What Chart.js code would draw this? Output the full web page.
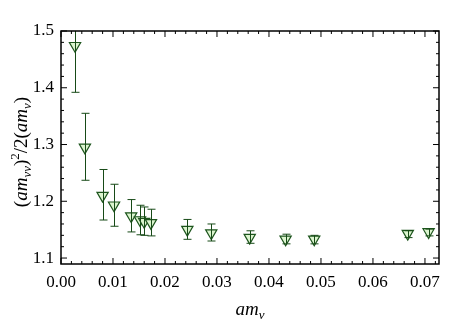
<!DOCTYPE html>
<html>
<head>
<meta charset="utf-8">
<script src="https://cdn.jsdelivr.net/npm/chart.js@4/dist/chart.umd.min.js"></script>
<style>
  html, body { margin: 0; padding: 0; background: #fff; }
  #wrap { width: 470px; height: 320px; position: relative; }
</style>
</head>
<body>
<div id="wrap"><canvas id="c"></canvas></div>
<script>
// am_v values and the ratio, with lower / upper error limits
const mv    = [0.0027, 0.0046, 0.0080, 0.0102, 0.0135, 0.0152, 0.0160, 0.0173, 0.0243, 0.0289, 0.0363, 0.0432, 0.0487, 0.0667, 0.0707];
const ratio = [1.474, 1.295, 1.210, 1.193, 1.174, 1.167, 1.164, 1.162, 1.150, 1.144, 1.136, 1.133, 1.133, 1.143, 1.146];
const errLo = [1.392, 1.237, 1.167, 1.156, 1.146, 1.141, 1.140, 1.139, 1.133, 1.130, 1.126, 1.125, 1.125, 1.136, 1.139];
const errHi = [1.556, 1.355, 1.256, 1.230, 1.203, 1.193, 1.190, 1.186, 1.168, 1.160, 1.148, 1.142, 1.140, 1.148, 1.151];

const xTicks = [0, 0.01, 0.02, 0.03, 0.04, 0.05, 0.06, 0.07];
const yTicks = [1.1, 1.2, 1.3, 1.4, 1.5];

const serif = "'Liberation Serif', 'DejaVu Serif', serif";
const green = '#1d551d';

// error bars, frame and inward ticks
const decor = {
  id: 'decor',
  afterDatasetsDraw(chart) {
    const ctx = chart.ctx, a = chart.chartArea;
    const xs = chart.scales.x, ys = chart.scales.y;
    ctx.save();
    ctx.beginPath();
    ctx.rect(a.left, a.top, a.right - a.left, a.bottom - a.top);
    ctx.clip();
    ctx.strokeStyle = '#174a17';
    ctx.lineWidth = 1;
    for (let i = 0; i < mv.length; i++) {
      const x = Math.round(xs.getPixelForValue(mv[i])) + 0.5;
      const y0 = ys.getPixelForValue(errLo[i]);
      const y1 = ys.getPixelForValue(errHi[i]);
      ctx.beginPath();
      ctx.moveTo(x, y0); ctx.lineTo(x, y1);
      ctx.moveTo(x - 4, y0); ctx.lineTo(x + 4, y0);
      ctx.moveTo(x - 4, y1); ctx.lineTo(x + 4, y1);
      ctx.stroke();
    }
    ctx.restore();

    ctx.save();
    ctx.strokeStyle = '#000';
    ctx.lineWidth = 1.5;
    ctx.strokeRect(a.left, a.top, a.right - a.left, a.bottom - a.top);
    ctx.lineWidth = 1;
    ctx.beginPath();
    for (let k = 0; k <= 36; k++) {
      const v = k * 0.002;
      const px = xs.getPixelForValue(v);
      if (px > a.right) break;
      const len = (k % 5 === 0) ? 6 : 3;
      ctx.moveTo(px, a.bottom); ctx.lineTo(px, a.bottom - len);
      ctx.moveTo(px, a.top); ctx.lineTo(px, a.top + len);
    }
    for (let k = 0; k <= 25; k++) {
      const v = 1.08 + k * 0.02;
      const py = ys.getPixelForValue(v);
      if (py > a.bottom || py < a.top - 0.5) continue;
      const len = (Math.round(v * 100) % 10 === 0) ? 6 : 3;
      ctx.moveTo(a.left, py); ctx.lineTo(a.left + len, py);
      ctx.moveTo(a.right, py); ctx.lineTo(a.right - len, py);
    }
    ctx.stroke();
    ctx.restore();

    // axis titles with sub/superscripts
    ctx.save();
    ctx.fillStyle = '#000';
    ctx.textBaseline = 'alphabetic';
    const big = "italic 19px " + serif, small = "italic 13px " + serif, up = "13px " + serif, norm = "19px " + serif;
    function run(parts, measureOnly) {
      let w = 0;
      for (const p of parts) {
        ctx.font = p[1];
        if (!measureOnly) ctx.fillText(p[0], w, p[2]);
        w += ctx.measureText(p[0]).width;
      }
      return w;
    }
    const yParts = [['(', norm, 0], ['am', big, 0], ['vv', small, 4], [')', norm, 0], ['2', up, -8], ['/2(', norm, 0], ['am', big, 0], ['v', small, 4], [')', norm, 0]];
    let w = run(yParts, true);
    ctx.translate(27, 152 + w / 2);
    ctx.rotate(-Math.PI / 2);
    run(yParts, false);
    ctx.restore();

    ctx.save();
    ctx.fillStyle = '#000';
    const xParts = [['am', "italic 19px " + serif, 0], ['v', "italic 13px " + serif, 4]];
    w = run(xParts, true);
    ctx.translate((a.left + a.right) / 2 - w / 2, 315);
    run(xParts, false);
    ctx.restore();
  }
};

new Chart(document.getElementById('c'), {
  type: 'scatter',
  data: {
    datasets: [{
      data: mv.map((x, i) => ({ x: x, y: ratio[i] })),
      pointStyle: 'triangle',
      rotation: 180,
      radius: 6.5,
      hoverRadius: 6.5,
      borderWidth: 1.2,
      borderColor: green,
      backgroundColor: '#dcf5cf'
    }]
  },
  options: {
    responsive: true,
    maintainAspectRatio: false,
    animation: false,
    layout: { padding: { top: 31, right: 31, left: 0, bottom: 0 } },
    plugins: { legend: { display: false }, tooltip: { enabled: false } },
    scales: {
      x: {
        type: 'linear',
        min: 0, max: 0.0727,
        afterFit(s) { s.height = 56; },
        afterBuildTicks(s) { s.ticks = xTicks.map(v => ({ value: v })); },
        grid: { display: false, drawTicks: false },
        border: { display: false },
        ticks: {
          padding: 8,
          color: '#000',
          font: { family: serif, size: 17 },
          callback: v => v.toFixed(2)
        }
      },
      y: {
        type: 'linear',
        min: 1.0895, max: 1.5,
        afterFit(s) { s.width = 61; },
        afterBuildTicks(s) { s.ticks = yTicks.map(v => ({ value: v })); },
        grid: { display: false, drawTicks: false },
        border: { display: false },
        ticks: {
          padding: 7,
          color: '#000',
          font: { family: serif, size: 17 },
          callback: v => v.toFixed(1)
        }
      }
    }
  },
  plugins: [decor]
});
</script>
</body>
</html>
